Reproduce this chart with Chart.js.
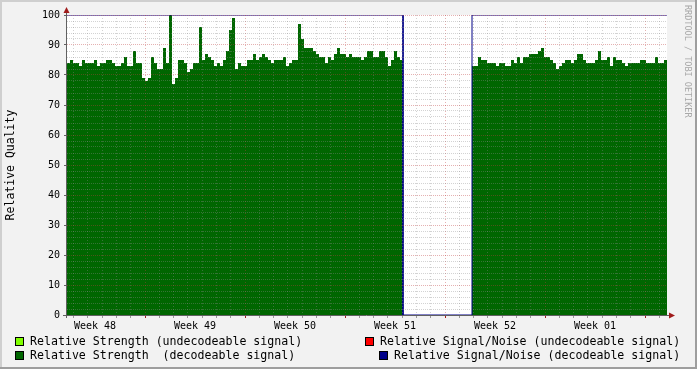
<!DOCTYPE html>
<html>
<head>
<meta charset="utf-8">
<script src="https://cdn.jsdelivr.net/npm/chart.js@4.4.0/dist/chart.umd.min.js"></script>
<style>
  html, body { margin: 0; padding: 0; background: #f2f2f2; }
  #canvas { display: block; }
</style>
</head>
<body>
<canvas id="canvas" width="697" height="369"></canvas>
<script>
const canvas = document.getElementById("canvas");

// x is measured in days from the Monday that opens week 48
const weekLabels = ['Week 48', 'Week 49', 'Week 50', 'Week 51', 'Week 52', 'Week 01'];
const startDay = 1.54;
const stepDay = 0.21;

// relative strength of decodeable signal, one value per sample
const strengthDecoded = [
  84, 85, 84, 84, 83, 85, 84, 84, 84, 85, 83, 84, 84, 85, 85, 84, 83, 83, 84, 86,
  83, 83, 88, 84, 84, 79, 78, 79, 86, 84, 82, 82, 89, 84, 100, 77, 79, 85, 85, 84,
  81, 82, 84, 84, 96, 85, 87, 86, 85, 83, 84, 83, 85, 88, 95, 99, 82, 84, 83, 83,
  85, 85, 87, 85, 86, 87, 86, 85, 84, 85, 85, 85, 86, 83, 84, 85, 85, 97, 92, 89,
  89, 89, 88, 87, 86, 86, 84, 86, 85, 87, 89, 87, 87, 86, 87, 86, 86, 86, 85, 86,
  88, 88, 86, 86, 88, 88, 86, 83, 85, 88, 86, 85, 0, 0, 0, 0, 0, 0, 0, 0,
  0, 0, 0, 0, 0, 0, 0, 0, 0, 0, 0, 0, 0, 0, 0, 83, 83, 86, 85, 85,
  84, 84, 84, 83, 84, 84, 83, 83, 85, 84, 86, 84, 86, 86, 87, 87, 87, 88, 89, 86,
  86, 85, 84, 82, 83, 84, 85, 85, 84, 85, 87, 87, 85, 84, 84, 84, 85, 88, 85, 85,
  86, 83, 86, 85, 85, 84, 83, 84, 84, 84, 84, 85, 85, 84, 84, 84, 86, 84, 84, 85
];

// relative signal/noise of decodeable signal
const snrDecoded = [
  100, 100, 100, 100, 100, 100, 100, 100, 100, 100, 100, 100, 100, 100, 100, 100, 100, 100, 100, 100,
  100, 100, 100, 100, 100, 100, 100, 100, 100, 100, 100, 100, 100, 100, 100, 100, 100, 100, 100, 100,
  100, 100, 100, 100, 100, 100, 100, 100, 100, 100, 100, 100, 100, 100, 100, 100, 100, 100, 100, 100,
  100, 100, 100, 100, 100, 100, 100, 100, 100, 100, 100, 100, 100, 100, 100, 100, 100, 100, 100, 100,
  100, 100, 100, 100, 100, 100, 100, 100, 100, 100, 100, 100, 100, 100, 100, 100, 100, 100, 100, 100,
  100, 100, 100, 100, 100, 100, 100, 100, 100, 100, 100, 100, 0, 0, 0, 0, 0, 0, 0, 0,
  0, 0, 0, 0, 0, 0, 0, 0, 0, 0, 0, 0, 0, 0, 0, 100, 100, 100, 100, 100,
  100, 100, 100, 100, 100, 100, 100, 100, 100, 100, 100, 100, 100, 100, 100, 100, 100, 100, 100, 100,
  100, 100, 100, 100, 100, 100, 100, 100, 100, 100, 100, 100, 100, 100, 100, 100, 100, 100, 100, 100,
  100, 100, 100, 100, 100, 100, 100, 100, 100, 100, 100, 100, 100, 100, 100, 100, 100, 100, 100, 100
];

const legendItems = [
  { label: 'Relative Strength (undecodeable signal)', color: '#80ff00' },
  { label: 'Relative Signal/Noise (undecodeable signal)', color: '#ff0000' },
  { label: 'Relative Strength  (decodeable signal)', color: '#006600' },
  { label: 'Relative Signal/Noise (decodeable signal)', color: '#000088' },
];

const MONO = '"DejaVu Sans Mono", monospace';
const MINOR = 'rgba(140,140,140,0.38)';
const MAJOR = 'rgba(190,60,60,0.4)';

// each sample becomes a flat step
function toSteps(values) {
  const pts = [];
  values.forEach((v, i) => {
    pts.push({ x: startDay + i * stepDay, y: v });
    pts.push({ x: startDay + (i + 1) * stepDay, y: v });
  });
  return pts;
}

const rrdFrame = {
  id: 'rrdFrame',
  beforeDraw(chart) {
    const { ctx, chartArea: a } = chart;
    const w = chart.width, h = chart.height;
    ctx.save();
    ctx.fillStyle = '#f2f2f2';
    ctx.fillRect(0, 0, w, h);
    ctx.fillStyle = '#cfcfcf';
    ctx.fillRect(0, 0, w, 2);
    ctx.fillRect(0, 0, 2, h);
    ctx.fillStyle = '#9e9e9e';
    ctx.fillRect(0, h - 2, w, 2);
    ctx.fillRect(w - 2, 0, 2, h);
    ctx.fillStyle = '#ffffff';
    ctx.fillRect(a.left, a.top, a.right - a.left, a.bottom - a.top);
    ctx.restore();
  },
  afterDraw(chart) {
    const { ctx, chartArea: a } = chart;
    ctx.save();
    // axes
    ctx.strokeStyle = '#606060';
    ctx.lineWidth = 1;
    ctx.beginPath();
    ctx.moveTo(a.left - 0.5, a.bottom + 3);
    ctx.lineTo(a.left - 0.5, a.top - 5);
    ctx.moveTo(a.left - 4, a.bottom + 0.5);
    ctx.lineTo(a.right + 3, a.bottom + 0.5);
    ctx.stroke();
    // arrows
    ctx.fillStyle = '#a01c1c';
    ctx.beginPath();
    ctx.moveTo(a.left - 3.5, a.top - 2);
    ctx.lineTo(a.left + 2.5, a.top - 2);
    ctx.lineTo(a.left - 0.5, a.top - 8);
    ctx.closePath();
    ctx.fill();
    ctx.beginPath();
    ctx.moveTo(a.right + 2, a.bottom - 2.5);
    ctx.lineTo(a.right + 2, a.bottom + 3.5);
    ctx.lineTo(a.right + 8, a.bottom + 0.5);
    ctx.closePath();
    ctx.fill();

    // y title
    ctx.fillStyle = '#000';
    ctx.font = '11.5px ' + MONO;
    ctx.textAlign = 'center';
    ctx.textBaseline = 'middle';
    ctx.save();
    ctx.translate(11, (a.top + a.bottom) / 2);
    ctx.rotate(-Math.PI / 2);
    ctx.fillText('Relative Quality', 0, 0);
    ctx.restore();

    // credit
    ctx.save();
    ctx.translate(687, 5);
    ctx.rotate(Math.PI / 2);
    ctx.font = '8.5px ' + MONO;
    ctx.fillStyle = '#a8a8a8';
    ctx.textAlign = 'left';
    ctx.fillText('RRDTOOL / TOBI OETIKER', 0, 0);
    ctx.restore();

    // legend
    ctx.font = '11.6px ' + MONO;
    ctx.textAlign = 'left';
    const spots = [[15, 337], [365, 337], [15, 351], [379, 351]];
    legendItems.forEach((it, i) => {
      const [x, y] = spots[i];
      ctx.fillStyle = it.color;
      ctx.fillRect(x, y, 9, 9);
      ctx.strokeStyle = '#000';
      ctx.strokeRect(x + 0.5, y + 0.5, 8, 8);
      ctx.fillStyle = '#000';
      ctx.fillText(it.label, x + 15, y + 5);
    });
    ctx.restore();
  }
};

const chart = new Chart(canvas, {
  type: 'line',
  data: {
    datasets: [{
      label: 'Relative Signal/Noise (decodeable signal)',
      data: toSteps(snrDecoded),
      borderColor: '#000088',
      borderWidth: 1,
      fill: false,
      pointRadius: 0,
      order: 0,
    }, {
      label: 'Relative Strength (decodeable signal)',
      data: toSteps(strengthDecoded),
      borderWidth: 0,
      backgroundColor: '#006600',
      fill: 'origin',
      pointRadius: 0,
      order: 1,
    }]
  },
  options: {
    responsive: false,
    animation: false,
    devicePixelRatio: 1,
    layout: { padding: { top: 15, right: 30, left: 0, bottom: 0 } },
    plugins: { legend: { display: false }, tooltip: { enabled: false } },
    scales: {
      x: {
        type: 'linear',
        min: startDay,
        max: startDay + strengthDecoded.length * stepDay,
        afterFit: (s) => { s.height = 54; },
        afterBuildTicks: (s) => {
          const t = [];
          for (let d = 2; d <= 43; d++) t.push({ value: d });
          weekLabels.forEach((w, k) => t.push({ value: 3.5 + 7 * k }));
          t.sort((p, q) => p.value - q.value);
          s.ticks = t;
        },
        border: { display: false, dash: [1, 2] },
        grid: {
          z: 1,
          color: (c) => {
            const v = c.tick ? c.tick.value : 0;
            if (v % 7 === 0) return MAJOR;
            if (Number.isInteger(v)) return MINOR;
            return 'rgba(0,0,0,0)';
          },
          tickColor: (c) => {
            const v = c.tick ? c.tick.value : 0;
            if (v % 7 === 0) return '#a01c1c';
            if (Number.isInteger(v)) return '#999';
            return 'rgba(0,0,0,0)';
          },
          tickLength: 3,
        },
        ticks: {
          autoSkip: false,
          maxRotation: 0,
          padding: 2,
          color: '#000',
          font: { family: MONO, size: 10 },
          callback: (v) => {
            const k = (v - 3.5) / 7;
            return Number.isInteger(k) ? weekLabels[k] : '';
          }
        }
      },
      y: {
        min: 0,
        max: 100,
        afterFit: (s) => { s.width = 67; },
        border: { display: false, dash: [1, 1] },
        grid: {
          z: 1,
          color: (c) => (c.tick && c.tick.value % 10 === 0) ? MAJOR : MINOR,
          tickColor: (c) => (c.tick && c.tick.value % 10 === 0) ? '#606060' : 'rgba(0,0,0,0)',
          tickLength: 3,
        },
        ticks: {
          stepSize: 2,
          autoSkip: false,
          padding: 4,
          color: '#000',
          font: { family: MONO, size: 10 },
          callback: (v) => v % 10 === 0 ? v : ''
        }
      }
    }
  },
  plugins: [rrdFrame]
});
</script>
</body>
</html>
